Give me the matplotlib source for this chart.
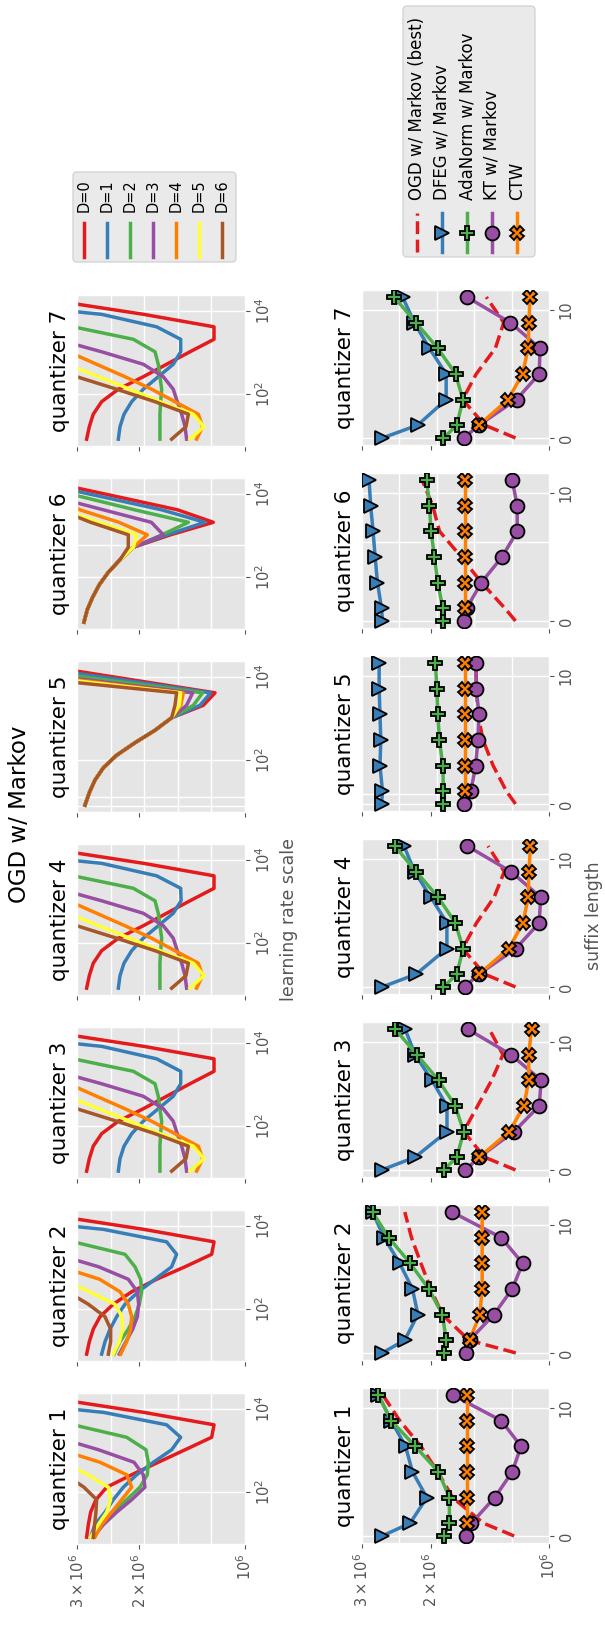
import matplotlib.pyplot as plt
import numpy as np
from matplotlib.patches import FancyBboxPatch
from matplotlib.ticker import NullLocator

plt.style.use("ggplot")

W, H = 605, 1627
SCALE = 1e6  # losses below are stored in units of 1e6

lr_scales = [8, 16, 32, 64, 128, 256, 512, 1024, 2048, 4096, 8192, 16384]
depth_labels = ["D=0", "D=1", "D=2", "D=3", "D=4", "D=5", "D=6"]
depth_colors = ["#e41a1c", "#377eb8", "#4daf4a", "#984ea3", "#ff7f00", "#ffff33", "#a65628"]

# OGD w/ Markov: loss vs learning-rate scale, one list per depth D=0..6
sweep_q1 = [
    [2.822, 2.791, 2.749, 2.655, 2.475, 2.101, 1.765, 1.481, 1.244, 1.225, 1.942, 3.31],
    [2.749, 2.673, 2.502, 2.370, 2.219, 2.033, 1.823, 1.617, 1.524, 1.671, 2.529, 5.68],
    [2.702, 2.558, 2.370, 2.171, 1.990, 1.896, 1.884, 1.913, 2.171, 3.080, 5.0, 8.0],
    [2.702, 2.529, 2.318, 2.101, 1.926, 1.947, 2.069, 2.609, 3.44, 4.5, 6.0, 8.0],
    [2.673, 2.558, 2.395, 2.243, 2.101, 2.171, 2.585, 3.35, 4.5, 6.0, 8.0, 10.0],
    [2.749, 2.615, 2.475, 2.411, 2.448, 2.800, 3.30, 4.5, 6.0, 8.0, 10.0, 12.0],
    [2.702, 2.679, 2.655, 2.643, 2.872, 3.24, 4.5, 6.0, 8.0, 10.0, 12.0, 14.0],
]
sweep_q2 = [
    [2.822, 2.773, 2.702, 2.585, 2.370, 2.101, 1.784, 1.481, 1.244, 1.225, 1.942, 3.31],
    [2.558, 2.502, 2.421, 2.318, 2.195, 2.011, 1.803, 1.617, 1.565, 1.671, 2.529, 5.68],
    [2.359, 2.268, 2.148, 2.056, 1.998, 1.968, 1.981, 2.056, 2.195, 3.08, 5.0, 8.0],
    [2.278, 2.181, 2.087, 2.024, 2.007, 2.024, 2.148, 2.609, 3.44, 4.5, 6.0, 8.0],
    [2.258, 2.171, 2.115, 2.101, 2.148, 2.268, 2.591, 3.35, 4.5, 6.0, 8.0, 10.0],
    [2.370, 2.278, 2.228, 2.239, 2.344, 2.773, 3.30, 4.5, 6.0, 8.0, 10.0, 12.0],
    [2.448, 2.411, 2.411, 2.502, 2.791, 3.20, 4.5, 6.0, 8.0, 10.0, 12.0, 14.0],
]
sweep_q3 = [
    [2.822, 2.773, 2.702, 2.558, 2.293, 1.947, 1.671, 1.434, 1.225, 1.225, 1.942, 3.31],
    [2.293, 2.268, 2.209, 2.101, 1.947, 1.765, 1.600, 1.524, 1.524, 1.784, 2.558, 5.68],
    [1.746, 1.746, 1.746, 1.738, 1.726, 1.746, 1.765, 1.803, 2.078, 3.08, 5.0, 8.0],
    [1.466, 1.481, 1.514, 1.558, 1.600, 1.708, 1.947, 2.558, 3.44, 4.5, 6.0, 8.0],
    [1.373, 1.320, 1.358, 1.582, 1.843, 2.195, 2.643, 3.18, 4.5, 6.0, 8.0, 10.0],
    [1.434, 1.308, 1.403, 1.746, 2.124, 2.609, 3.20, 4.5, 6.0, 8.0, 10.0, 12.0],
    [1.617, 1.472, 1.449, 1.803, 2.318, 3.01, 4.0, 5.5, 7.0, 9.0, 11.0, 13.0],
]
sweep_q4 = [
    [2.822, 2.773, 2.702, 2.558, 2.293, 1.947, 1.671, 1.434, 1.225, 1.225, 1.942, 3.31],
    [2.293, 2.268, 2.209, 2.101, 1.947, 1.765, 1.600, 1.520, 1.524, 1.784, 2.558, 5.68],
    [1.746, 1.746, 1.746, 1.738, 1.726, 1.746, 1.765, 1.803, 2.078, 3.08, 5.0, 8.0],
    [1.466, 1.481, 1.514, 1.558, 1.600, 1.708, 1.947, 2.558, 3.44, 4.5, 6.0, 8.0],
    [1.373, 1.320, 1.358, 1.582, 1.843, 2.195, 2.643, 3.18, 4.5, 6.0, 8.0, 10.0],
    [1.434, 1.308, 1.403, 1.746, 2.124, 2.609, 3.20, 4.5, 6.0, 8.0, 10.0, 12.0],
    [1.617, 1.472, 1.449, 1.803, 2.318, 3.01, 4.0, 5.5, 7.0, 9.0, 11.0, 13.0],
]
sweep_q5 = [
    [2.853, 2.773, 2.673, 2.529, 2.318, 2.056, 1.803, 1.617, 1.314, 1.217, 2.051, 3.45],
    [2.853, 2.773, 2.673, 2.529, 2.318, 2.056, 1.803, 1.617, 1.343, 1.252, 2.195, 3.87],
    [2.853, 2.773, 2.673, 2.529, 2.318, 2.056, 1.803, 1.617, 1.403, 1.320, 2.432, 4.5],
    [2.853, 2.773, 2.673, 2.529, 2.318, 2.056, 1.803, 1.617, 1.466, 1.409, 2.743, 5.4],
    [2.853, 2.773, 2.673, 2.529, 2.318, 2.056, 1.803, 1.617, 1.524, 1.498, 2.948, 5.5],
    [2.853, 2.773, 2.673, 2.529, 2.318, 2.056, 1.803, 1.617, 1.538, 1.524, 3.113, 6.0],
    [2.853, 2.773, 2.673, 2.529, 2.318, 2.056, 1.803, 1.617, 1.582, 1.565, 3.488, 7.0],
]
sweep_q6 = [
    [2.872, 2.810, 2.713, 2.597, 2.448, 2.268, 2.078, 1.628, 1.231, 1.555, 2.263, 3.31],
    [2.872, 2.810, 2.713, 2.597, 2.448, 2.268, 2.078, 1.667, 1.300, 1.726, 2.507, 3.66],
    [2.872, 2.810, 2.713, 2.597, 2.448, 2.268, 2.078, 1.722, 1.449, 2.060, 2.872, 4.02],
    [2.872, 2.810, 2.713, 2.597, 2.448, 2.268, 2.078, 1.708, 1.847, 2.529, 3.458, 5.0],
    [2.872, 2.810, 2.713, 2.597, 2.448, 2.268, 2.078, 1.896, 2.283, 2.948, 3.40, 5.0],
    [2.872, 2.810, 2.713, 2.597, 2.448, 2.268, 2.078, 2.033, 2.609, 3.27, 4.5, 6.0],
    [2.872, 2.810, 2.713, 2.597, 2.448, 2.268, 2.148, 2.148, 2.749, 3.376, 4.5, 6.0],
]
sweep_q7 = [
    [2.822, 2.773, 2.702, 2.558, 2.293, 1.947, 1.671, 1.434, 1.225, 1.225, 1.942, 3.31],
    [2.293, 2.268, 2.209, 2.101, 1.947, 1.765, 1.600, 1.524, 1.524, 1.784, 2.558, 5.68],
    [1.746, 1.746, 1.746, 1.738, 1.726, 1.746, 1.765, 1.803, 2.078, 3.08, 5.0, 8.0],
    [1.466, 1.481, 1.514, 1.558, 1.600, 1.708, 1.947, 2.558, 3.44, 4.5, 6.0, 8.0],
    [1.373, 1.320, 1.358, 1.582, 1.843, 2.195, 2.643, 3.18, 4.5, 6.0, 8.0, 10.0],
    [1.434, 1.308, 1.403, 1.746, 2.124, 2.609, 3.20, 4.5, 6.0, 8.0, 10.0, 12.0],
    [1.617, 1.472, 1.449, 1.803, 2.318, 3.01, 4.0, 5.5, 7.0, 9.0, 11.0, 13.0],
]
sweeps = [sweep_q1, sweep_q2, sweep_q3, sweep_q4, sweep_q5, sweep_q6, sweep_q7]

# method comparison vs suffix length, one list per quantizer 1..7
suffix_lengths = [0, 1, 3, 5, 7, 9, 11]
ctw_suffix_lengths = [1, 3, 5, 7, 9, 11]
ogd_best = [
    [1.227, 1.47, 1.76, 1.92, 2.12, 2.40, 2.65],
    [1.215, 1.60, 1.87, 2.00, 2.12, 2.24, 2.33],
    [1.217, 1.46, 1.65, 1.52, 1.40, 1.31, 1.42],
    [1.217, 1.46, 1.66, 1.53, 1.38, 1.30, 1.43],
    [1.217, 1.284, 1.388, 1.473, 1.517, 1.53, 1.535],
    [1.217, 1.296, 1.487, 1.673, 1.901, 1.978, 2.106],
    [1.217, 1.458, 1.66, 1.532, 1.37, 1.304, 1.444],
]
dfeg = [
    [2.66, 2.258, 2.047, 2.227, 2.32, 2.523, 2.72],
    [2.66, 2.331, 2.158, 2.227, 2.401, 2.63, 2.815],
    [2.668, 2.193, 1.819, 1.819, 1.988, 2.193, 2.326],
    [2.66, 2.18, 1.82, 1.82, 2.0, 2.20, 2.34],
    [2.67, 2.656, 2.695, 2.682, 2.695, 2.708, 2.708],
    [2.656, 2.671, 2.735, 2.773, 2.806, 2.846, 2.873],
    [2.656, 2.161, 1.828, 1.828, 2.017, 2.203, 2.36],
]
adanorm = [
    [1.848, 1.794, 1.794, 1.912, 2.192, 2.523, 2.72],
    [1.848, 1.827, 1.869, 2.024, 2.258, 2.559, 2.815],
    [1.856, 1.716, 1.650, 1.733, 1.911, 2.171, 2.466],
    [1.857, 1.717, 1.655, 1.732, 1.915, 2.18, 2.47],
    [1.857, 1.857, 1.865, 1.901, 1.920, 1.930, 1.947],
    [1.857, 1.865, 1.920, 1.958, 1.997, 2.017, 2.049],
    [1.857, 1.717, 1.657, 1.730, 1.920, 2.182, 2.48],
]
kt = [
    [1.631, 1.576, 1.375, 1.241, 1.178, 1.323, 1.758],
    [1.631, 1.594, 1.381, 1.241, 1.167, 1.323, 1.766],
    [1.634, 1.505, 1.227, 1.059, 1.047, 1.25, 1.612],
    [1.64, 1.508, 1.215, 1.059, 1.05, 1.25, 1.615],
    [1.647, 1.58, 1.538, 1.517, 1.508, 1.532, 1.538],
    [1.647, 1.62, 1.487, 1.317, 1.205, 1.205, 1.241],
    [1.647, 1.508, 1.210, 1.059, 1.054, 1.254, 1.618],
]
ctw = [
    [1.62, 1.62, 1.62, 1.62, 1.62, 1.62],
    [1.594, 1.50, 1.48, 1.48, 1.48, 1.48],
    [1.505, 1.261, 1.159, 1.126, 1.126, 1.108],
    [1.508, 1.265, 1.165, 1.13, 1.125, 1.115],
    [1.641, 1.641, 1.641, 1.641, 1.641, 1.641],
    [1.641, 1.641, 1.641, 1.641, 1.641, 1.641],
    [1.508, 1.271, 1.168, 1.130, 1.125, 1.118],
]
method_labels = ["OGD w/ Markov (best)", "DFEG w/ Markov", "AdaNorm w/ Markov", "KT w/ Markov", "CTW"]
method_colors = ["#e41a1c", "#377eb8", "#4daf4a", "#984ea3", "#ff7f00"]
method_markers = [None, ">", "P", "o", "X"]

# odd extra guide lines seen in two of the columns
extra_lr_lines = {4: [12.9, 7.6], 5: [575]}
extra_suffix_lines = {4: [0.8], 5: [6.2]}

loss_ticks = [1e6, 2e6, 3e6]
loss_ticklabels = [r"$\mathdefault{10^{6}}$", r"$\mathdefault{2\times10^{6}}$",
                   r"$\mathdefault{3\times10^{6}}$"]
loss_grid = 1e6 * 3.0 ** (np.arange(1, 5) / 5)
GRAY = "#555555"
LW = 2.5
MS = 10

fig = plt.figure(figsize=(W / 100, H / 100), dpi=100)


def add_panel(left, top, right, bottom):
    return fig.add_axes([left / W, 1 - bottom / H, (right - left) / W, (bottom - top) / H])


def style_panel(ax, show_loss_labels):
    ax.set_xscale("log")
    ax.set_xlim(3e6, 1e6)
    ax.set_xticks(loss_ticks, loss_ticklabels, rotation=90)
    ax.xaxis.set_minor_locator(NullLocator())
    ax.yaxis.set_minor_locator(NullLocator())
    ax.yaxis.tick_right()
    ax.grid(False)
    ax.grid(True, axis="y", color="white", lw=1.0)
    for g in loss_grid:
        ax.axvline(g, color="white", lw=1.0, zorder=0.6)
    ax.tick_params(axis="both", labelsize=10.5, colors=GRAY)
    if not show_loss_labels:
        ax.tick_params(axis="x", labelbottom=False)


title_spots = []
for k in range(7):
    # learning-rate sweeps
    t0, t1 = 1393 - 183 * k, 1544 - 183 * k
    ax = add_panel(77.3, t0, 245, t1)
    ax.set_yscale("log")
    for vals, color in zip(sweeps[k], depth_colors):
        ax.plot(np.asarray(vals) * SCALE, lr_scales, color=color, lw=LW, zorder=2)
    style_panel(ax, k == 0)
    ax.set_ylim(*ax.get_ylim())
    ax.set_yticks([1e2, 1e4], [r"$\mathdefault{10^{2}}$", r"$\mathdefault{10^{4}}$"],
                  rotation=90, va="center")
    ax.yaxis.set_minor_locator(NullLocator())
    for y in extra_lr_lines.get(k, []):
        ax.axhline(y, color="white", lw=1.0, zorder=0.6)
    title_spots.append((60, (t0 + t1) / 2))

    # method comparison
    b0, b1 = 1388 - 183 * k, 1543 - 183 * k
    bx = add_panel(361.7, b0, 549, b1)
    bx.plot(np.asarray(ogd_best[k]) * SCALE, suffix_lengths, color=method_colors[0],
            ls="--", lw=LW, zorder=2)
    for series, color, marker in zip([dfeg, adanorm, kt], method_colors[1:4], method_markers[1:4]):
        bx.plot(np.asarray(series[k]) * SCALE, suffix_lengths, color=color, lw=LW,
                marker=marker, ms=MS, mfc=color, mec="black", mew=1.3, zorder=3)
    bx.plot(np.asarray(ctw[k]) * SCALE, ctw_suffix_lengths, color=method_colors[4], lw=LW,
            marker="X", ms=MS, mfc=method_colors[4], mec="black", mew=1.3, zorder=3)
    style_panel(bx, k == 0)
    bx.set_ylim(*bx.get_ylim())
    bx.set_yticks([0, 10], ["0", "10"], rotation=90, va="center")
    for y in extra_suffix_lines.get(k, []):
        bx.axhline(y, color="white", lw=1.0, zorder=0.6)
    title_spots.append((345, (b0 + b1) / 2))

# overlay in pixel coordinates for titles, labels and legends
ov = fig.add_axes([0, 0, 1, 1])
ov.set_xlim(0, W)
ov.set_ylim(H, 0)
ov.axis("off")

for i, (x, y) in enumerate(title_spots):
    ov.text(x, y, f"quantizer {i // 2 + 1}", rotation=90, fontsize=15.5,
            ha="center", va="center")

ov.text(20, 814, "OGD w/ Markov", rotation=90, fontsize=16.5, ha="center", va="center")
ov.text(289.5, 919.5, "learning rate scale", rotation=90, fontsize=12.5, color=GRAY,
        ha="center", va="center")
ov.text(594, 915.5, "suffix length", rotation=90, fontsize=12.5, color=GRAY,
        ha="center", va="center")

# depth legend
ov.add_patch(FancyBboxPatch((73, 172), 163, 90, boxstyle="round,pad=0,rounding_size=4",
                            facecolor="#E5E5E5", edgecolor="#cccccc", lw=1, alpha=0.8))
for j, (label, color) in enumerate(zip(depth_labels, depth_colors)):
    x = 84 + j * 23
    ov.plot([x, x], [257, 223], color=color, lw=LW)
    ov.text(x, 212, label, rotation=90, fontsize=10.5, ha="center", va="bottom")

# method legend
ov.add_patch(FancyBboxPatch((403, 6), 132, 251, boxstyle="round,pad=0,rounding_size=4",
                            facecolor="#E5E5E5", edgecolor="#cccccc", lw=1, alpha=0.8))
for j, (label, color, marker) in enumerate(zip(method_labels, method_colors, method_markers)):
    x = 417 + j * 25
    if marker is None:
        ov.plot([x, x], [252, 213], color=color, lw=LW, ls="--")
    else:
        ov.plot([x, x], [252, 213], color=color, lw=LW)
        ov.plot([x], [232.5], marker=marker, ms=MS, mfc=color, mec="black", mew=1.3)
    ov.text(x, 200, label, rotation=90, fontsize=12, ha="center", va="bottom")

fig.savefig("out.png", dpi=100)
